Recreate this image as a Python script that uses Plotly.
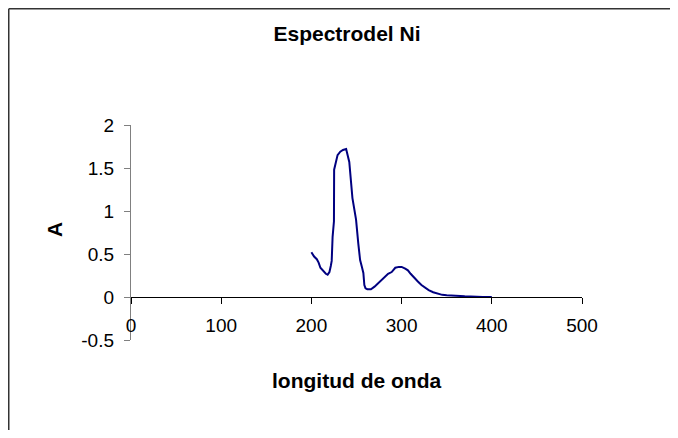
import plotly.graph_objects as go

# wavelength (nm) and absorbance
wavelength = [200, 203, 206, 208, 210, 213, 216, 218, 220, 221.5, 222.5, 223.5, 225, 225.2,
              227, 229, 232, 235, 238.5, 239.5, 242, 245.5, 249.5, 252, 254, 256, 257.6,
              258.7, 260, 262, 266, 270, 275, 280, 285, 289, 293, 297, 300, 304, 307, 310,
              314, 318, 322, 326, 330, 335, 340, 345, 350, 355, 360, 365, 370, 375, 380,
              390, 400]
absorbance = [0.52, 0.47, 0.44, 0.40, 0.34, 0.30, 0.27, 0.26, 0.29, 0.36, 0.42, 0.70, 0.88, 1.48,
              1.58, 1.65, 1.69, 1.71, 1.72, 1.67, 1.57, 1.15, 0.90, 0.62, 0.43, 0.35, 0.28,
              0.14, 0.10, 0.09, 0.09, 0.12, 0.17, 0.22, 0.27, 0.29, 0.34, 0.35, 0.35, 0.33, 0.31,
              0.27, 0.22, 0.18, 0.14, 0.11, 0.08, 0.055, 0.04, 0.025, 0.02, 0.02, 0.018, 0.012,
              0.008, 0.004, 0.002, 0.0, 0.0]

x_ticks = [0, 100, 200, 300, 400, 500]
y_ticks = [-0.5, 0, 0.5, 1, 1.5, 2]
y_tick_text = ["-0.5", "0", "0.5", "1", "1.5", "2"]

title_text = "Espectrodel Ni"
x_title = "longitud de onda"
y_title = "A"

FONT = "Liberation Sans, Arial, sans-serif"

# figure sits inside the page's 8px body margin
W, H = 662, 422
L, T = 123, 117
PW, PH = 451, 215
R, B = W - L - PW, H - T - PH
BOTTOM = T + PH  # pixel y of plot bottom in figure coords

fig = go.Figure()
fig.add_trace(go.Scatter(x=wavelength, y=absorbance, mode="lines",
                         line=dict(color="#000080", width=2), showlegend=False))

bx = (0.75 - L) / PW          # left frame line (paper x)
by = (BOTTOM - 0.75) / PH     # top frame line (paper y)

fig.update_layout(
    width=W, height=H,
    margin=dict(l=L, r=R, t=T, b=B, pad=0),
    paper_bgcolor="white", plot_bgcolor="white",
    font=dict(family=FONT, size=19, color="black"),
    title=dict(text="<b>" + title_text + "</b>", font=dict(size=21, family=FONT),
               x=(339 - L) / PW, xref="paper", xanchor="center",
               y=1 - 26 / H, yref="container", yanchor="middle"),
    xaxis=dict(range=[0, 500], tickvals=x_ticks, showgrid=False, zeroline=False,
               showline=True, linecolor="black", linewidth=1.3,
               ticks="outside", ticklen=6, tickcolor="black", tickwidth=1.3,
               anchor="free", position=(340 - 297) / 215,
               ticklabelstandoff=5, tickfont=dict(size=19)),
    yaxis=dict(range=[-0.5, 2], tickvals=y_ticks, ticktext=y_tick_text,
               showgrid=False, zeroline=False,
               showline=True, linecolor="#808080", linewidth=1.3,
               ticks="outside", ticklen=6, tickcolor="#808080", tickwidth=1.3,
               ticklabelstandoff=6, tickfont=dict(size=19)),
    annotations=[
        dict(text="<b>" + x_title + "</b>", xref="paper", yref="paper",
             x=0.5, y=(340 - 380) / 215, xanchor="center", yanchor="middle",
             showarrow=False, font=dict(size=21, family=FONT)),
        dict(text="<b>" + y_title + "</b>", xref="paper", yref="paper",
             x=(54 - 131) / 451, y=(340 - 230) / 215, xanchor="center", yanchor="middle",
             textangle=-90, showarrow=False, font=dict(size=21, family=FONT)),
    ],
    shapes=[
        dict(type="line", xref="paper", yref="paper",
             x0=bx, x1=bx, y0=-(B + 5) / PH, y1=by,
             line=dict(color="#333333", width=1.5), layer="below"),
        dict(type="line", xref="paper", yref="paper",
             x0=bx, x1=(PW + R + 5) / PW, y0=by, y1=by,
             line=dict(color="#333333", width=1.5), layer="below"),
    ],
)

fig.write_html("out.html")
